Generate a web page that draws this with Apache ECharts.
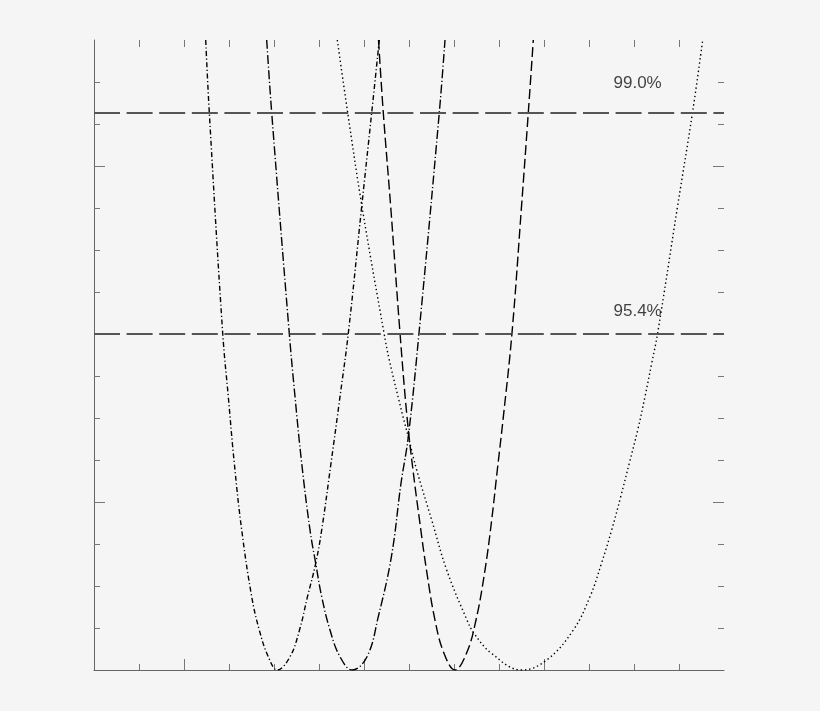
<!DOCTYPE html>
<html>
<head>
<meta charset="utf-8">
<script src="https://cdn.jsdelivr.net/npm/echarts@6/dist/echarts.min.js"></script>
<style>
html,body{margin:0;padding:0;background:#f5f5f5;}
#chart{width:820px;height:711px;}
</style>
</head>
<body>
<div id="chart"></div>
<script>
// Curve A (short dash-dot)
const curveA = [
  [0.1206,7.5],[0.1406,6.635],[0.215,4.008],[0.2461,3.254],[0.2794,2.461],[0.3206,1.667],
  [0.3761,0.873],[0.4183,0.476],[0.4683,0.158],[0.5183,0],[0.5889,0.158],[0.6417,0.476],
  [0.6861,0.873],[0.7317,1.270],[0.765,1.667],[0.8167,2.461],[0.8667,3.254],[0.9128,4.008],
  [0.9872,5.516],[1.0428,6.635],[1.085,7.5]
];
// Curve B (long dash-dot)
const curveB = [
  [0.4594,7.5],[0.4872,6.635],[0.5833,4.048],[0.6167,3.254],[0.6539,2.461],[0.7,1.667],
  [0.7317,1.270],[0.765,0.873],[0.8111,0.476],[0.8667,0.158],[0.9344,0],[1.0167,0.158],
  [1.0794,0.635],[1.1528,1.357],[1.2056,2.223],[1.2461,2.777],[1.3056,4.012],[1.4183,6.635],
  [1.45,7.5]
];
// Curve C (dashed)
const curveC = [
  [1.0806,7.5],[1.1072,6.635],[1.1483,5.516],[1.2,4.012],[1.2389,3.015],[1.2722,2.381],
  [1.3083,1.786],[1.3472,1.190],[1.3944,0.595],[1.4444,0.199],[1.5056,0],[1.5694,0.199],
  [1.6222,0.595],[1.6722,1.190],[1.7094,1.786],[1.7406,2.381],[1.7722,2.976],[1.8222,4.012],
  [1.875,5.516],[1.9128,6.635],[1.9406,7.5]
];
// Curve D (dotted)
const curveD = [
  [0.8517,7.5],[0.9094,6.635],[0.9889,5.516],[1.1111,4.012],[1.1406,3.690],[1.2167,3.015],
  [1.2461,2.777],[1.2928,2.381],[1.3761,1.786],[1.4594,1.190],[1.5722,0.595],[1.6111,0.437],
  [1.7083,0.199],[1.8761,0],[2.015,0.119],[2.1628,0.476],[2.2556,0.873],[2.3194,1.270],
  [2.3761,1.667],[2.4261,2.063],[2.4739,2.461],[2.5206,2.857],[2.5611,3.254],[2.5983,3.651],
  [2.6306,4.0],[2.7417,5.516],[2.825,6.635],[2.8817,7.5]
];
// Confidence levels
const levelNames = ['99.0%','95.4%'];
const levelValues = [6.63, 4.0];
const levelLabelX = 2.52;
const levelLabelY = [6.98, 4.27];
// Tick positions
const xMinorTicks = [-0.25,0,0.25,0.5,0.75,1,1.25,1.5,1.75,2,2.25,2.5,2.75];
const xMajorTicks = [0,1,2];
const yMinorTicks = [0.5,1,1.5,2,2.5,3,3.5,4,4.5,5,5.5,6,6.5,7];
const yMajorTicks = [2,4,6];

const chart = echarts.init(document.getElementById('chart'), null, {renderer:'canvas'});
const FONT = 'Liberation Sans, Arial, Helvetica, sans-serif';
const X_MIN = -0.5, X_MAX = 3, Y_MIN = 0, Y_MAX = 7.5;

function xAx(pos, ticks, len, showLine){
  return {type:'value', min:X_MIN, max:X_MAX, position:pos,
    axisLine:{show:showLine, onZero:false, lineStyle:{color:'#666', width:1}},
    axisTick:{show:true, inside:true, length:len, customValues:ticks, lineStyle:{color:'#777', width:1}},
    axisLabel:{show:false}, splitLine:{show:false}};
}
function yAx(pos, ticks, len, showLine){
  return {type:'value', min:Y_MIN, max:Y_MAX, position:pos,
    axisLine:{show:showLine, onZero:false, lineStyle:{color:'#666', width:1}},
    axisTick:{show:true, inside:true, length:len, customValues:ticks, lineStyle:{color:'#777', width:1}},
    axisLabel:{show:false}, splitLine:{show:false}};
}
function curve(data, dash){
  return {type:'line', data:data, xAxisIndex:0, yAxisIndex:0, showSymbol:false, symbol:'none',
    smooth:0.4, clip:true, silent:true,
    lineStyle:{color:'#000', width:1.4, type:dash}};
}

const option = {
  backgroundColor:'#f5f5f5',
  animation:false,
  grid:{left:94, top:40, width:630, height:630, containLabel:false},
  xAxis:[
    xAx('bottom', xMinorTicks, 6, true),
    xAx('bottom', xMajorTicks, 11, false),
    xAx('top', xMinorTicks, 7, false)
  ],
  yAxis:[
    yAx('left', yMinorTicks, 6, true),
    yAx('left', yMajorTicks, 11, false),
    yAx('right', yMinorTicks, 6, false),
    yAx('right', yMajorTicks, 11, false)
  ],
  series:[
    curve(curveA, [5,2.5,1.2,2.5]),
    curve(curveB, [9,2.5,1.2,2.5]),
    curve(curveC, [10,4]),
    curve(curveD, [1.4,2.8]),
    {type:'scatter', xAxisIndex:0, yAxisIndex:0, symbolSize:0, silent:true,
      data: levelNames.map((n,i)=>({name:n, value:[levelLabelX, levelLabelY[i]]})),
      label:{show:true, position:'inside', formatter:'{b}', color:'#111', fontSize:17, fontFamily:FONT},
      markLine:{silent:true, symbol:['none','none'], label:{show:false},
        lineStyle:{color:'#555', width:2, type:[26,6.6]},
        emphasis:{disabled:true},
        data: levelValues.map(v=>({yAxis:v}))}
    }
  ]
};
chart.setOption(option);
</script>
</body>
</html>
